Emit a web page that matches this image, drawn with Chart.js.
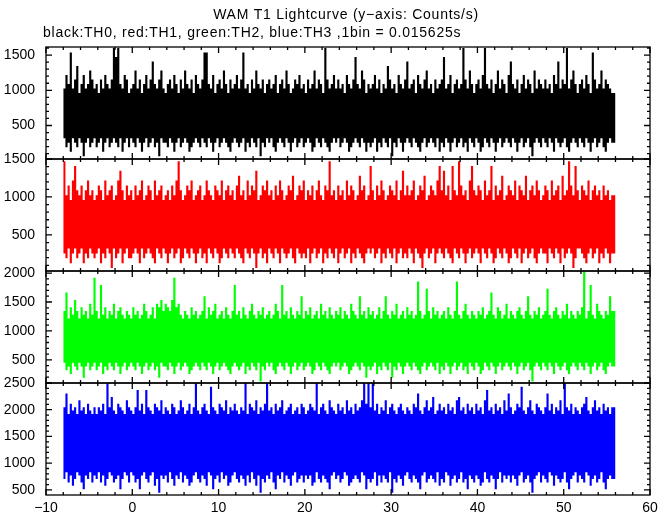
<!DOCTYPE html>
<html><head><meta charset="utf-8">
<script src="https://cdn.jsdelivr.net/npm/chart.js@4/dist/chart.umd.min.js"></script>
<style>html,body{margin:0;padding:0;background:#fff;}#wrap{position:relative;width:672px;height:515px;}</style>
</head><body><div id="wrap"><canvas id="c" width="672" height="515"></canvas></div>
<script>
// Time axis of the light curve (seconds); each value below is the envelope of one 0.25 s slice
const tStart = -8;
const sliceWidth = 0.25;

// TH0 (black)
const th0Hi = [
1088,1024,1216,1088,1536,1024,1152,1344,960,1088,1216,1024,1088,1280,1152,1024,
1088,960,1152,1024,1216,1088,1024,1152,1600,1472,1600,1088,1024,1216,1152,960,
1024,1088,1280,1024,1152,960,1088,1216,1024,1152,1408,1088,1024,1152,1280,1024,
960,1088,1152,1024,1216,1088,960,1152,1024,1280,1088,1024,1152,960,1216,1088,
1024,1152,1536,1536,1088,1024,1216,960,1088,1152,1024,1280,1088,960,1152,1024,
1088,1216,1024,1152,1536,1024,1088,960,1152,1024,1280,1088,1024,1152,960,1088,
1152,1024,1088,1216,960,1088,1152,1024,1280,1088,960,1024,1152,1088,1216,1024,
1088,960,1152,1024,1088,1280,1024,1152,1088,960,1600,1152,1024,1088,1216,1024,
1152,1024,1088,960,1216,1088,1024,1152,1472,1088,1024,1280,1152,960,1088,1024,
1088,1216,1024,1152,960,1088,1024,1344,1152,1024,1088,960,1216,1088,1024,1152,
1408,1024,1088,1152,960,1216,1088,1024,1152,1280,1024,1088,960,1152,1024,1088,
1152,1472,1024,1088,1216,960,1088,1152,1024,1088,1600,1152,1024,1280,1088,960,
1088,1152,1024,1216,1600,1088,1024,1152,960,1088,1280,1024,1152,1088,960,1216,
1408,1088,1024,1152,960,1088,1216,1024,1152,1088,960,1280,1024,1152,1088,1024,
1152,1024,1088,960,1216,1088,1408,1024,1152,1088,1600,1024,1152,1280,1088,960,
1088,1152,1024,1216,1088,960,1536,1152,1024,1088,1280,1024,1152,1088,1024,960];
const th0Lo = [
256,320,192,256,128,320,256,192,320,256,64,256,320,192,256,320,
192,256,320,128,256,320,192,256,320,256,192,320,128,256,320,192,
320,256,192,320,256,128,256,320,192,256,320,192,256,64,320,256,
256,192,320,256,128,256,320,192,256,320,256,128,192,256,320,256,
192,320,256,192,320,256,128,256,320,192,256,320,256,192,128,256,
320,256,192,256,320,128,256,192,320,256,192,320,64,256,192,320,
256,320,192,128,256,320,256,192,320,256,128,256,320,192,256,320,
192,256,320,256,128,192,320,256,192,320,256,192,128,256,320,256,
320,192,256,320,256,128,192,256,320,256,192,320,256,128,256,192,
256,320,128,256,192,320,256,192,320,64,256,192,320,256,128,256,
320,256,192,320,256,192,128,256,320,192,256,320,256,192,320,128,
256,192,320,256,128,256,320,192,256,320,192,256,128,320,256,192,
320,256,128,192,320,256,192,320,256,128,256,320,192,256,320,256,
192,320,256,128,256,320,192,256,320,192,64,256,320,256,192,320,
256,192,320,256,128,320,256,192,256,320,192,128,256,320,256,192,
320,256,192,320,256,128,256,320,192,256,320,192,128,256,320,256];

// TH1 (red)
const th1Hi = [
1088,1472,1024,1152,960,1216,1408,1088,1024,1152,960,1088,1216,1024,1088,960,
1024,1152,1088,960,1216,1024,1088,1152,960,1024,1216,1344,1088,960,1152,1024,
1088,960,1152,1024,1088,1216,960,1024,1152,1088,960,1216,1024,1088,1152,960,
1024,1088,960,1152,1024,1216,1472,1088,960,1024,1152,1088,1216,960,1024,1088,
1152,960,1024,1216,1088,1024,960,1152,1088,1024,1216,960,1088,1152,1024,1088,
960,1152,1280,1024,1088,960,1216,1024,1152,1088,1344,960,1024,1152,1088,1216,
1024,1088,960,1152,1024,1216,1088,960,1024,1152,1088,1280,960,1024,1152,1088,
1216,960,1088,1024,1152,960,1088,1216,1024,960,1152,1088,1472,1024,1088,960,
1152,1024,1088,960,1216,1024,1152,1088,960,1024,1280,1088,1152,960,1024,1408,
1088,960,1152,1024,1216,1088,960,1024,1152,1088,1024,1216,960,1088,1344,1024,
1152,1024,1088,1216,960,1024,1152,1088,1280,960,1024,1152,1088,1024,1216,1408,
1088,1344,1024,1152,960,1408,1088,1024,1472,1152,1024,1088,960,1216,1408,1088,
1024,1152,1088,960,1216,1024,1088,1408,960,1152,1024,1088,1280,960,1024,1152,
1088,1024,1216,960,1152,1088,1024,1280,960,1088,1152,1024,1216,1088,960,1024,
1152,1088,960,1216,1024,1088,1152,960,1280,1024,1088,1472,1152,1024,1408,1088,
960,1152,1088,1024,1216,960,1088,1152,1024,1088,960,1152,1024,1088,960,1024];
const th1Lo = [
320,256,192,320,128,256,320,192,256,320,128,256,192,320,256,192,
256,320,128,256,192,320,256,64,320,192,256,320,128,256,320,192,
192,256,320,256,128,320,192,256,320,256,192,128,320,256,192,320,
256,128,256,320,192,256,320,128,192,320,256,192,320,256,128,256,
320,192,256,128,320,256,192,320,256,128,192,320,256,192,320,256,
192,320,256,192,128,320,256,192,320,256,64,256,320,192,256,128,
320,256,192,320,256,128,320,256,192,256,320,192,128,320,256,192,
256,192,320,128,256,320,192,256,320,128,256,192,320,256,192,320,
128,256,320,192,256,320,128,256,192,320,256,192,128,256,320,256,
320,192,256,320,128,256,192,320,256,192,320,128,256,320,192,256,
192,320,256,128,320,256,192,64,256,320,192,256,320,128,256,320,
256,192,320,256,192,128,320,256,192,320,256,128,256,320,192,256,
320,256,128,320,256,192,320,256,128,192,320,256,192,320,256,128,
192,320,256,192,320,128,256,320,192,256,320,192,128,256,320,256,
256,128,320,256,192,320,256,128,320,192,256,320,256,64,192,320,
320,256,192,128,256,320,192,256,320,128,256,192,320,256,128,256];

// TH2 (green)
const th2Hi = [
1280,1344,1664,1216,1408,1280,1536,1344,1216,1408,1280,1344,1216,1472,1280,1920,
1344,1216,1792,1280,1408,1216,1344,1280,1472,1216,1344,1408,1280,1216,1344,1280,
1216,1408,1280,1344,1216,1280,1472,1344,1216,1280,1408,1216,1472,1408,1536,1344,
1472,1408,1344,1536,1920,1408,1472,1280,1216,1344,1280,1216,1408,1280,1344,1216,
1280,1344,1600,1216,1408,1280,1344,1472,1216,1280,1344,1216,1408,1280,1216,1344,
1792,1280,1344,1216,1408,1280,1216,1344,1472,1280,1216,1344,1280,1408,1216,1280,
1344,1216,1280,1472,1344,1216,1792,1280,1344,1216,1408,1280,1216,1344,1280,1600,
1216,1344,1280,1408,1216,1280,1344,1216,1472,1280,1344,1216,1408,1280,1216,1344,
1280,1408,1216,1344,1280,1216,1472,1344,1280,1216,1600,1280,1344,1216,1408,1280,
1344,1216,1280,1408,1216,1344,1600,1280,1216,1344,1280,1472,1216,1280,1344,1216,
1408,1280,1344,1216,1280,1856,1344,1216,1280,1728,1344,1216,1408,1280,1344,1216,
1280,1344,1216,1408,1280,1216,1344,1856,1280,1216,1344,1472,1280,1216,1344,1280,
1216,1344,1280,1408,1216,1280,1344,1664,1280,1216,1408,1344,1216,1280,1472,1216,
1344,1280,1216,1344,1408,1280,1216,1344,1600,1280,1216,1344,1280,1408,1216,1280,
1344,1728,1280,1216,1344,1408,1280,1216,1344,1280,1472,1216,1344,1280,1216,1344,
1280,1408,2030,1216,1344,1792,1280,1216,1472,1344,1280,1216,1344,1280,1600,1344];
const th2Lo = [
384,448,320,384,256,448,384,320,448,384,192,384,448,320,384,448,
320,384,448,256,384,320,448,384,320,448,384,256,384,448,320,384,
448,384,320,448,384,256,384,448,320,384,448,320,384,192,448,384,
384,320,448,384,256,384,448,320,384,448,384,256,320,384,448,384,
320,448,384,320,448,384,256,384,448,320,384,448,384,320,256,384,
448,384,320,384,448,256,384,320,448,384,320,448,128,384,320,448,
384,448,320,256,384,448,384,320,448,384,256,384,448,320,384,448,
320,384,448,384,256,320,448,384,320,448,384,320,256,384,448,384,
448,320,384,448,384,256,320,384,448,384,320,448,384,192,384,320,
384,448,256,384,320,448,384,320,448,192,384,320,448,384,256,384,
448,384,320,448,384,320,256,384,448,320,384,448,384,320,448,256,
384,320,448,384,256,384,448,320,384,448,320,384,256,448,384,320,
448,384,256,320,448,384,320,448,384,256,384,448,320,384,448,384,
320,448,384,256,384,448,320,384,448,320,128,384,448,384,320,448,
384,320,448,384,256,448,384,320,384,448,320,256,384,448,384,320,
448,384,320,448,384,256,384,448,320,384,448,320,256,384,448,384];

// TH3 (blue)
const th3Hi = [
1984,2048,2304,1920,2112,1984,2048,1920,2176,1984,2048,1920,2112,1984,1920,2048,
1920,2048,1984,2112,1920,2496,2048,2240,1984,1920,2112,2048,1984,1920,2176,2048,
1984,1920,2048,2368,1984,2112,1920,2368,2048,1984,1920,2112,2048,1984,2176,1920,
2048,1984,1920,2112,2048,1920,1984,2176,2048,1920,1984,2112,1920,2048,2496,1984,
1920,2048,2112,1984,1920,2432,2048,1984,1920,2112,2048,1984,2176,1920,2048,1984,
2112,1984,1920,2048,1984,2496,1920,2112,2048,1984,2176,1920,2048,1984,2112,2496,
1984,2048,1920,2112,1984,2048,2176,1920,1984,2048,2112,1920,1984,2048,1920,2112,
2048,1920,1984,2112,2048,1984,2496,1920,2048,2112,1984,1920,2176,2048,1984,1920,
2112,1984,2048,1920,2176,1984,2048,1920,2112,1984,2048,2176,2496,2112,2496,2048,
2496,1984,2112,1920,2048,1984,2176,1920,2048,2112,1984,1920,2048,2112,1984,1920,
2048,1984,1920,2112,2048,2304,1984,1920,2048,2176,1984,2048,2240,1920,1984,2112,
1984,2048,1920,2112,1984,2048,1920,2176,2240,1984,2048,1920,2112,1984,2048,1920,
2112,1984,2048,1920,2176,2368,1984,2048,1920,2112,1984,2048,1920,2176,1984,2304,
2048,1920,1984,2112,2048,2432,1984,1920,2048,2176,1984,1920,2112,2048,1984,1920,
2048,2304,1984,2112,1920,2048,1984,2176,1920,2496,2048,1984,2112,1920,2048,1984,
1920,2048,2112,2240,1984,1920,2048,2176,1984,2048,1920,2112,1984,2048,1920,2048];
const th3Lo = [
768,704,832,640,768,576,704,832,768,640,512,768,704,832,640,768,
704,832,640,768,576,704,832,768,640,704,768,512,704,832,768,640,
832,768,640,704,512,768,832,704,640,768,832,576,704,448,768,704,
768,640,832,704,576,768,704,832,640,768,704,576,640,768,832,704,
640,768,704,576,832,768,512,704,768,640,832,704,768,576,640,768,
832,704,640,768,704,576,768,640,832,704,576,768,448,704,640,768,
704,832,640,512,768,704,832,640,768,704,576,768,832,640,704,768,
640,768,704,768,576,640,832,704,640,768,704,640,512,768,832,704,
768,640,704,832,768,576,640,704,768,704,640,832,768,512,704,640,
704,832,576,768,640,768,704,640,832,448,704,640,768,704,576,768,
832,704,640,768,704,640,512,768,832,640,704,768,704,640,832,576,
704,640,832,768,576,704,768,640,704,832,640,704,512,768,704,640,
768,704,576,640,832,704,640,768,704,512,704,832,640,768,704,768,
640,768,704,576,768,832,640,704,768,640,448,704,768,832,640,768,
704,640,832,768,576,768,704,640,704,832,640,512,704,768,832,640,
768,704,640,832,768,576,704,768,640,704,832,640,512,704,768,704];

// Tick labels
const xTicks = [-10, 0, 10, 20, 30, 40, 50, 60];
const yTicksTH0 = [500, 1000, 1500];
const yTicksTH1 = [500, 1000, 1500];
const yTicksTH2 = [500, 1000, 1500, 2000];
const yTicksTH3 = [500, 1000, 1500, 2000, 2500];

const titleText = 'WAM T1 Lightcurve (y\u2212axis: Counts/s)';
const subtitleText = 'black:TH0, red:TH1, green:TH2, blue:TH3 ,1bin = 0.015625s';

const FONT = '"Liberation Sans", Arial, sans-serif';

function toPoints(arr) {
  const p = arr.map((v, i) => ({x: tStart + i * sliceWidth, y: v}));
  p.push({x: tStart + arr.length * sliceWidth, y: arr[arr.length - 1]});
  return p;
}

const panels = [
  {id: 'yTH0', hi: th0Hi, lo: th0Lo, color: '#000000', min: 25, max: 1614, ticks: yTicksTH0},
  {id: 'yTH1', hi: th1Hi, lo: th1Lo, color: '#ff0000', min: 25, max: 1500, ticks: yTicksTH1},
  {id: 'yTH2', hi: th2Hi, lo: th2Lo, color: '#00ff00', min: 100, max: 2036, ticks: yTicksTH2},
  {id: 'yTH3', hi: th3Hi, lo: th3Lo, color: '#0000ff', min: 404, max: 2500, ticks: yTicksTH3}
];

const datasets = [];
panels.forEach(p => {
  datasets.push({data: toPoints(p.hi), yAxisID: p.id, borderColor: 'rgba(0,0,0,0)', backgroundColor: p.color,
    fill: '+1', stepped: 'after', pointRadius: 0, borderWidth: 1});
  datasets.push({data: toPoints(p.lo), yAxisID: p.id, borderColor: 'rgba(0,0,0,0)', backgroundColor: p.color,
    fill: false, stepped: 'after', pointRadius: 0, borderWidth: 1});
});

const scales = {
  x: {
    type: 'linear', min: -10, max: 60,
    afterBuildTicks: s => { s.ticks = xTicks.map(v => ({value: v})); },
    afterFit: s => { s.height = 20; },
    grid: {display: false, drawTicks: false},
    border: {display: false},
    ticks: {autoSkip: false, maxRotation: 0, padding: 5, color: '#000',
      font: {family: FONT, size: 14},
      callback: v => String(v).replace('-', '\u2212')}
  }
};
// bottom panel first: the layout places the last-defined left box at the top
[...panels].reverse().forEach(p => {
  scales[p.id] = {
    type: 'linear', position: 'left', stack: 'panels', stackWeight: 1,
    min: p.min, max: p.max,
    afterBuildTicks: s => { s.ticks = p.ticks.map(v => ({value: v})); },
    afterFit: s => { s.width = 46; },
    grid: {display: false, drawTicks: false},
    border: {display: false},
    ticks: {autoSkip: false, padding: 11, color: '#000', font: {family: FONT, size: 14},
      callback: v => String(v)}
  };
});

const framePlugin = {
  id: 'frame',
  afterDraw(chart) {
    const ctx = chart.ctx;
    const xs = chart.scales.x;
    ctx.save();
    ctx.strokeStyle = '#000';
    ctx.lineWidth = 1.3;
    const L = xs.left, R = xs.right;
    panels.forEach(p => {
      const ys = chart.scales[p.id];
      const top = ys.top, bot = ys.bottom;
      ctx.strokeRect(L, top, R - L, bot - top);
      ctx.beginPath();
      for (let v = -10; v <= 60; v += 2) {
        const len = (v % 10 === 0) ? 6 : 3;
        const px = xs.getPixelForValue(v);
        ctx.moveTo(px, top); ctx.lineTo(px, top + len);
        ctx.moveTo(px, bot); ctx.lineTo(px, bot - len);
      }
      for (let v = Math.ceil(p.min / 100) * 100; v <= p.max; v += 100) {
        const len = (v % 500 === 0) ? 6 : 3;
        const py = ys.getPixelForValue(v);
        ctx.moveTo(L, py); ctx.lineTo(L + len, py);
        ctx.moveTo(R, py); ctx.lineTo(R - len, py);
      }
      ctx.stroke();
    });
    ctx.fillStyle = '#000';
    ctx.font = '14px ' + FONT;
    ctx.textBaseline = 'alphabetic';
    ctx.textAlign = 'center';
    if ('letterSpacing' in ctx) ctx.letterSpacing = '0.75px';
    ctx.fillText(titleText, 346, 19);
    ctx.textAlign = 'left';
    ctx.fillText(subtitleText, 43, 37);
    ctx.restore();
  }
};

new Chart(document.getElementById('c'), {
  type: 'line',
  data: {datasets},
  options: {
    responsive: false, animation: false,
    layout: {padding: {top: 47, right: 22, bottom: 0, left: 0}},
    plugins: {legend: {display: false}, tooltip: {enabled: false}, title: {display: false}},
    scales
  },
  plugins: [framePlugin]
});
</script></body></html>
